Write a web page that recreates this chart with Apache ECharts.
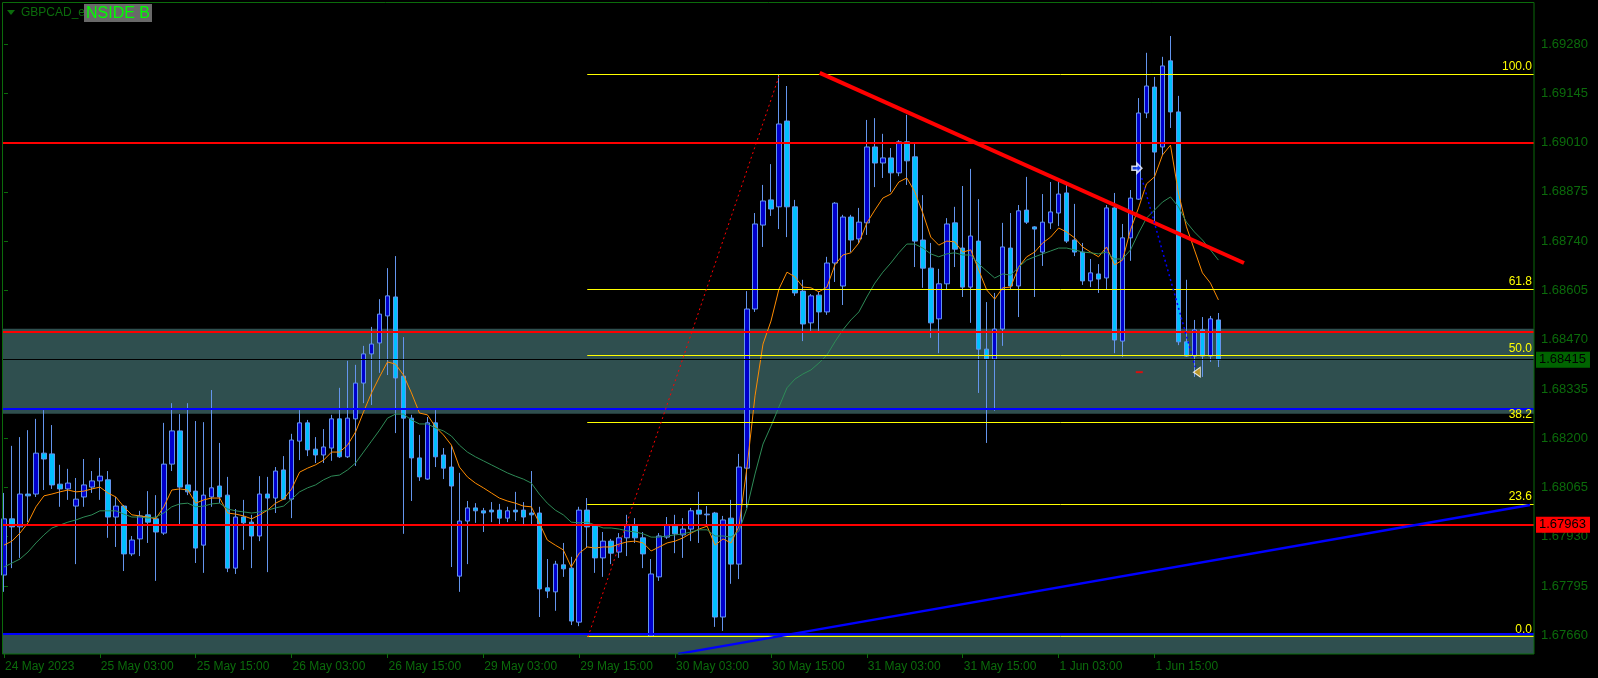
<!DOCTYPE html>
<html><head><meta charset="utf-8">
<script src="https://cdn.jsdelivr.net/npm/echarts@6/dist/echarts.min.js"></script>
<style>html,body{margin:0;padding:0;background:#000;}#c{width:1598px;height:678px;}</style>
</head><body><div id="c"></div>
<script>
// ---- candle data (H1, GBPCAD, 24 May 15:00 .. 1 Jun 23:00) ----
const opens=[1.67825,1.67979,1.67957,1.68047,1.68047,1.68159,1.68157,1.68074,1.68061,1.68014,
1.68039,1.68066,1.68083,1.68086,1.67984,1.68014,1.67883,1.67924,1.67990,1.67979,
1.67940,1.68129,1.68220,1.68072,1.68055,1.67907,1.68039,1.68069,1.68044,1.67844,
1.67984,1.67970,1.67932,1.68047,1.68036,1.68113,1.68033,1.68192,1.68242,1.68170,
1.68154,1.68173,1.68253,1.68149,1.68253,1.68351,1.68431,1.68461,1.68535,1.68587,
1.68370,1.68255,1.68146,1.68088,1.68242,1.68154,1.68121,1.67822,1.67973,1.68009,
1.68001,1.68003,1.68003,1.67981,1.68003,1.68003,1.67995,1.67995,1.67790,1.67779,
1.67853,1.67844,1.67696,1.68003,1.67962,1.67872,1.67918,1.67888,1.67927,1.67962,
1.67927,1.67658,1.67820,1.67929,1.67959,1.67935,1.67951,1.68003,1.67992,1.67995,
1.67710,1.67981,1.67855,1.68118,1.68554,1.68784,1.68853,1.68834,1.69069,1.68834,
1.68603,1.68516,1.68592,1.68546,1.68680,1.68617,1.68806,1.68746,1.68790,1.68998,
1.68954,1.68968,1.68927,1.69012,1.68971,1.68743,1.68666,1.68527,1.68623,1.68790,
1.68721,1.68614,1.68740,1.68444,1.68417,1.68499,1.68721,1.68617,1.68825,1.68779,
1.68710,1.68790,1.68817,1.68872,1.68743,1.68710,1.68631,1.68650,1.68639,1.68831,
1.68466,1.68749,1.68855,1.69091,1.69162,1.68998,1.69234,1.69094,1.68464,1.68425,
1.68497,1.68425,1.68524];
const highs=[1.68050,1.68179,1.68203,1.68222,1.68253,1.68277,1.68236,1.68127,1.68116,1.68091,
1.68143,1.68110,1.68146,1.68110,1.68039,1.68017,1.67932,1.68001,1.68055,1.68044,
1.68242,1.68296,1.68266,1.68296,1.68247,1.68244,1.68332,1.68187,1.68094,1.68006,
1.68031,1.67990,1.68096,1.68094,1.68121,1.68151,1.68212,1.68277,1.68250,1.68203,
1.68225,1.68264,1.68338,1.68412,1.68401,1.68453,1.68505,1.68581,1.68666,1.68699,
1.68477,1.68264,1.68209,1.68258,1.68277,1.68173,1.68179,1.68105,1.68028,1.68022,
1.68009,1.68025,1.68020,1.68012,1.68053,1.68025,1.68110,1.68012,1.67869,1.67864,
1.67913,1.67875,1.68012,1.68036,1.67962,1.67943,1.67924,1.67940,1.67990,1.67981,
1.67943,1.67869,1.67940,1.67984,1.67990,1.67981,1.68009,1.68053,1.68014,1.67998,
1.67987,1.68031,1.68157,1.68603,1.68817,1.68894,1.68951,1.69198,1.69165,1.68853,
1.68634,1.68595,1.68601,1.68697,1.68847,1.68812,1.68812,1.68831,1.69072,1.69077,
1.69034,1.68995,1.69017,1.69086,1.69009,1.68866,1.68735,1.68664,1.68803,1.68834,
1.68891,1.68938,1.68855,1.68573,1.68598,1.68790,1.68817,1.68839,1.68916,1.68781,
1.68869,1.68902,1.68908,1.68902,1.68842,1.68735,1.68691,1.68677,1.68839,1.68872,
1.68787,1.68880,1.69132,1.69256,1.69190,1.69245,1.69302,1.69138,1.68634,1.68524,
1.68532,1.68535,1.68543];
const lows=[1.67779,1.67844,1.67872,1.67970,1.68039,1.68058,1.68061,1.68012,1.68031,1.67855,
1.68012,1.68050,1.68031,1.67927,1.67902,1.67836,1.67877,1.67877,1.67913,1.67809,
1.67935,1.68110,1.67962,1.68044,1.67858,1.67831,1.68012,1.68022,1.67833,1.67828,
1.67894,1.67844,1.67918,1.67833,1.67995,1.68031,1.67981,1.68140,1.68151,1.68132,
1.68132,1.68138,1.68146,1.68146,1.68124,1.68296,1.68291,1.68379,1.68373,1.68214,
1.67938,1.68028,1.68083,1.68086,1.68121,1.68088,1.67847,1.67779,1.67855,1.67968,
1.67943,1.67970,1.67962,1.67970,1.67973,1.67962,1.67962,1.67710,1.67762,1.67727,
1.67820,1.67688,1.67685,1.67899,1.67831,1.67820,1.67855,1.67872,1.67877,1.67913,
1.67844,1.67655,1.67809,1.67924,1.67885,1.67872,1.67918,1.67913,1.67959,1.67683,
1.67672,1.67801,1.67814,1.68009,1.68546,1.68724,1.68809,1.68773,1.68751,1.68590,
1.68466,1.68494,1.68494,1.68538,1.68628,1.68565,1.68710,1.68735,1.68757,1.68888,
1.68913,1.68875,1.68918,1.68894,1.68669,1.68612,1.68475,1.68433,1.68606,1.68669,
1.68587,1.68516,1.68324,1.68187,1.68275,1.68453,1.68606,1.68532,1.68787,1.68587,
1.68672,1.68773,1.68781,1.68735,1.68699,1.68620,1.68614,1.68598,1.68606,1.68433,
1.68423,1.68686,1.68853,1.69077,1.68792,1.68976,1.69050,1.68455,1.68423,1.68368,
1.68368,1.68409,1.68395];
const closes=[1.67979,1.67957,1.68047,1.68042,1.68159,1.68143,1.68072,1.68061,1.68077,1.68033,
1.68072,1.68083,1.68096,1.67984,1.68014,1.67883,1.67921,1.67987,1.67970,1.67943,
1.68129,1.68220,1.68066,1.68053,1.67899,1.68044,1.68064,1.68039,1.67844,1.67984,
1.67968,1.67932,1.68047,1.68036,1.68110,1.68033,1.68195,1.68242,1.68168,1.68154,
1.68176,1.68253,1.68149,1.68255,1.68351,1.68431,1.68458,1.68540,1.68590,1.68365,
1.68255,1.68146,1.68094,1.68242,1.68149,1.68118,1.68069,1.67973,1.68009,1.68001,
1.67995,1.67998,1.67981,1.68001,1.67998,1.67984,1.67990,1.67787,1.67781,1.67855,
1.67842,1.67699,1.68003,1.67957,1.67872,1.67918,1.67885,1.67927,1.67962,1.67927,
1.67883,1.67828,1.67932,1.67962,1.67938,1.67951,1.68001,1.67992,1.67990,1.67710,
1.67976,1.67855,1.68121,1.68554,1.68787,1.68850,1.68828,1.69061,1.68834,1.68598,
1.68513,1.68590,1.68546,1.68680,1.68844,1.68806,1.68743,1.68792,1.68998,1.68954,
1.68968,1.68927,1.69012,1.68960,1.68740,1.68666,1.68516,1.68623,1.68787,1.68718,
1.68614,1.68754,1.68444,1.68417,1.68499,1.68724,1.68617,1.68823,1.68792,1.68773,
1.68792,1.68820,1.68869,1.68740,1.68710,1.68631,1.68653,1.68636,1.68831,1.68469,
1.68749,1.68858,1.69091,1.69165,1.68984,1.69220,1.69094,1.68464,1.68425,1.68497,
1.68425,1.68527,1.68415];
// moving averages
const maFast=[1.67907,1.67918,1.67940,1.67968,1.68012,1.68042,1.68047,1.68053,1.68058,1.68053,
1.68055,1.68061,1.68066,1.68050,1.68039,1.68012,1.67990,1.67987,1.67984,1.67979,
1.68012,1.68058,1.68061,1.68058,1.68022,1.68031,1.68036,1.68036,1.67995,1.67992,
1.67987,1.67979,1.67990,1.68003,1.68022,1.68033,1.68061,1.68107,1.68118,1.68127,
1.68140,1.68162,1.68162,1.68181,1.68217,1.68272,1.68324,1.68368,1.68409,1.68403,
1.68373,1.68324,1.68269,1.68264,1.68231,1.68209,1.68181,1.68121,1.68094,1.68077,
1.68064,1.68050,1.68036,1.68028,1.68022,1.68014,1.68012,1.67968,1.67921,1.67907,
1.67894,1.67847,1.67885,1.67902,1.67899,1.67902,1.67902,1.67910,1.67916,1.67918,
1.67913,1.67891,1.67902,1.67913,1.67918,1.67927,1.67940,1.67951,1.67959,1.67907,
1.67924,1.67913,1.67959,1.68121,1.68316,1.68458,1.68521,1.68609,1.68655,1.68642,
1.68614,1.68612,1.68601,1.68614,1.68675,1.68702,1.68708,1.68735,1.68790,1.68825,
1.68858,1.68869,1.68902,1.68913,1.68875,1.68817,1.68751,1.68729,1.68740,1.68738,
1.68710,1.68716,1.68661,1.68606,1.68581,1.68612,1.68614,1.68669,1.68697,1.68710,
1.68735,1.68751,1.68776,1.68765,1.68749,1.68724,1.68710,1.68697,1.68724,1.68675,
1.68688,1.68771,1.68831,1.68897,1.68916,1.68976,1.69003,1.68872,1.68779,1.68716,
1.68653,1.68625,1.68579];
const maSlow=[1.67847,1.67858,1.67869,1.67888,1.67913,1.67935,1.67954,1.67962,1.67970,1.67976,
1.67984,1.67990,1.68001,1.68001,1.68001,1.67992,1.67984,1.67984,1.67981,1.67984,
1.67995,1.68012,1.68020,1.68022,1.68012,1.68014,1.68020,1.68022,1.68006,1.68001,
1.67998,1.67995,1.67998,1.68003,1.68009,1.68014,1.68033,1.68053,1.68064,1.68072,
1.68086,1.68096,1.68099,1.68113,1.68132,1.68162,1.68192,1.68222,1.68255,1.68266,
1.68266,1.68250,1.68239,1.68239,1.68228,1.68220,1.68206,1.68181,1.68162,1.68149,
1.68138,1.68127,1.68116,1.68105,1.68096,1.68088,1.68077,1.68047,1.68022,1.68003,
1.67990,1.67970,1.67968,1.67970,1.67962,1.67954,1.67954,1.67951,1.67946,1.67943,
1.67938,1.67929,1.67929,1.67932,1.67935,1.67938,1.67943,1.67949,1.67949,1.67932,
1.67932,1.67929,1.67946,1.68009,1.68102,1.68184,1.68233,1.68286,1.68338,1.68362,
1.68376,1.68387,1.68406,1.68428,1.68464,1.68497,1.68524,1.68546,1.68587,1.68625,
1.68655,1.68680,1.68708,1.68732,1.68732,1.68721,1.68705,1.68697,1.68705,1.68708,
1.68702,1.68702,1.68677,1.68658,1.68639,1.68650,1.68647,1.68669,1.68688,1.68697,
1.68705,1.68713,1.68721,1.68721,1.68716,1.68710,1.68708,1.68705,1.68710,1.68691,
1.68691,1.68716,1.68762,1.68803,1.68825,1.68847,1.68861,1.68834,1.68792,1.68765,
1.68743,1.68716,1.68688];

// ---- axes ----
const yTicks=[1.67660,1.67795,1.67930,1.68065,1.68200,1.68335,1.68470,1.68605,1.68740,1.68875,1.69010,1.69145,1.69280];
const tickIndex=[0,12,24,36,48,60,72,84,96,108,120,132,144];
const tickLabels=['24 May 2023','25 May 03:00','25 May 15:00','26 May 03:00','26 May 15:00','29 May 03:00','29 May 15:00','30 May 03:00','30 May 15:00','31 May 03:00','31 May 15:00','1 Jun 03:00','1 Jun 15:00'];
const SLOTS=192; // bars + right shift

// ---- drawn objects (bar index, price) ----
const fibPrices=[1.69198,1.68609,1.68427,1.68245,1.68020,1.67656];
const fibLabels=['100.0','61.8','50.0','38.2','23.6','0.0'];
const fibStartBar=73.0;
const fibBase=[[73.1,1.67656],[97.1,1.69198]];
const redLevels=[1.69010,1.68491,1.67963];
const blueLevels=[1.68280,1.67665];
const zones=[[1.68500,1.68267],[1.67663,1.67600]];
const redTrend=[[102.1,1.69201],[155.2,1.68680]];
const blueTrend=[[84.4,1.67609],[191.0,1.68017]];
const tradeLine=[[142.4,1.68913],[149.1,1.68395]];
const arrowMark=[141.8,1.68940];
const triMark=[149.3,1.68381];
const dashMark=[142.1,1.68381];
const bidPrice=1.68415;
const taggedLevel=1.67963;

const GREEN='#0b6b0b';
const FONT='"Liberation Sans", Arial, sans-serif';

const categories=[];
(function(){
  const mon=['Jan','Feb','Mar','Apr','May','Jun','Jul','Aug','Sep','Oct','Nov','Dec'];
  let t=Date.UTC(2023,4,24,15);
  while(categories.length<SLOTS){
    const d=new Date(t);const wd=d.getUTCDay();
    if(wd!==0&&wd!==6){categories.push(d.getUTCDate()+' '+mon[d.getUTCMonth()]+' '+String(d.getUTCHours()).padStart(2,'0')+':00');}
    t+=3600000;
  }
})();
const labelMap={};tickIndex.forEach((ix,k)=>labelMap[ix]=tickLabels[k]);
const isTick=(idx)=>labelMap[idx]!==undefined;

const candleData=opens.map((o,i)=>[o,closes[i],lows[i],highs[i]]);
const X0=-0.25, X1=SLOTS-0.5;

const lines=[];
redLevels.forEach(p=>{
  const item={coord:[X0,p],lineStyle:{color:'#ff0000',width:2,type:'solid'},label:{show:false}};
  if(p===taggedLevel){item.label={show:true,position:'end',formatter:p.toFixed(5),color:'#000',backgroundColor:'#ff0000',padding:[2,4,1,3],fontSize:13,fontFamily:FONT,distance:2};}
  lines.push([item,{coord:[X1,p]}]);
});
blueLevels.forEach(p=>lines.push([{coord:[X0,p],lineStyle:{color:'#0000ff',width:2,type:'solid'},label:{show:false}},{coord:[X1,p]}]));
lines.push([{coord:[X0,bidPrice],lineStyle:{color:'#000000',width:1,type:'solid'},label:{show:true,position:'end',formatter:bidPrice.toFixed(5),color:'#000',backgroundColor:'#006400',padding:[2,4,1,3],fontSize:13,fontFamily:FONT,distance:2}},{coord:[X1,bidPrice]}]);
fibPrices.forEach((p,k)=>lines.push([{coord:[fibStartBar,p],lineStyle:{color:'#ffff00',width:1,type:'solid'},label:{show:true,position:'insideEndTop',formatter:fibLabels[k],color:'#ffff00',fontSize:12,fontFamily:FONT,distance:[2,1]}},{coord:[X1,p]}]));
lines.push([{coord:fibBase[0],lineStyle:{color:'#ff0000',width:1,type:[2,3]},label:{show:false}},{coord:fibBase[1]}]);
lines.push([{coord:redTrend[0],lineStyle:{color:'#ff0000',width:4,type:'solid'},label:{show:false}},{coord:redTrend[1]}]);
lines.push([{coord:blueTrend[0],lineStyle:{color:'#0000ff',width:2.5,type:'solid'},label:{show:false}},{coord:blueTrend[1]}]);
lines.push([{coord:tradeLine[0],lineStyle:{color:'#0000ff',width:1.5,type:[2,3]},label:{show:false}},{coord:tradeLine[1]}]);

const chart=echarts.init(document.getElementById('c'),null,{renderer:'canvas'});
chart.setOption({
  animation:false,
  backgroundColor:'#000000',
  textStyle:{fontFamily:FONT},
  grid:{left:0,right:64,top:2,bottom:24,containLabel:false},
  xAxis:[
    {type:'category',data:categories,boundaryGap:true,
     axisLine:{show:false},
     axisTick:{show:true,alignWithLabel:true,interval:(i)=>isTick(i),length:4,lineStyle:{color:GREEN}},
     axisLabel:{show:true,interval:(i)=>isTick(i),formatter:(v,i)=>labelMap[i]||'',align:'left',margin:7,color:GREEN,fontSize:12,fontFamily:FONT,padding:[0,0,0,1]},
     splitLine:{show:false}},
    {type:'value',min:-0.5,max:SLOTS-0.5,show:false}
  ],
  yAxis:{type:'value',position:'right',min:1.676087,max:1.693952,scale:true,
    splitLine:{show:false},axisLine:{show:false},
    axisTick:{show:true,length:4,customValues:yTicks,lineStyle:{color:GREEN}},
    axisLabel:{show:true,customValues:yTicks,formatter:(v)=>v.toFixed(5),color:GREEN,fontSize:13,fontFamily:FONT,margin:7}},
  series:[
    {type:'line',xAxisIndex:1,data:[],z:1,silent:true,
     markArea:{silent:true,itemStyle:{color:'#2f4f4f',opacity:1},
       data:zones.map(z=>[{coord:[X0,z[0]]},{coord:[X1,z[1]]}])}},
    {type:'candlestick',xAxisIndex:0,data:candleData,z:2,barWidth:5,silent:true,
     itemStyle:{color:'#0000cd',color0:'#00bfff',borderColor:'#6495ed',borderColor0:'#6495ed',borderColorDoji:'#6495ed',borderWidth:1}},
    {type:'line',xAxisIndex:0,data:maFast,z:3,symbol:'none',silent:true,lineStyle:{color:'#ff8c00',width:1}},
    {type:'line',xAxisIndex:0,data:maSlow,z:3,symbol:'none',silent:true,lineStyle:{color:'#2e8b57',width:1}},
    {type:'line',xAxisIndex:1,data:[],z:4,silent:true,
     markLine:{silent:true,symbol:['none','none'],precision:5,data:lines}},
    {type:'scatter',xAxisIndex:1,z:5,silent:true,
     data:[
       {value:arrowMark,symbol:'path://M0,3 L5,3 L5,0 L10,5 L5,10 L5,7 L0,7 Z',symbolSize:[10,10],itemStyle:{color:'#2050ff',borderColor:'#ffffff',borderWidth:1.5}},
       {value:triMark,symbol:'path://M10,0 L10,10 L0,5 Z',symbolSize:[7,10],itemStyle:{color:'#daa520',borderColor:'#ffffff',borderWidth:1}},
       {value:dashMark,symbol:'rect',symbolSize:[7,2],itemStyle:{color:'#ff0000'}}
     ]}
  ],
  graphic:[
    {type:'rect',silent:true,z:100,shape:{x:2.5,y:2.5,width:1531.5,height:651.5},style:{fill:null,stroke:GREEN,lineWidth:1}},
    {type:'polygon',silent:true,z:100,shape:{points:[[7,10],[15,10],[11,15]]},style:{fill:GREEN}},
    {type:'text',silent:true,z:100,x:21,y:13,style:{text:'GBPCAD_ecn',fill:GREEN,font:'12px '+FONT,textVerticalAlign:'middle'}},
    {type:'rect',silent:true,z:101,shape:{x:84,y:4,width:68,height:18},style:{fill:'#696969'}},
    {type:'text',silent:true,z:102,x:86,y:13.5,style:{text:'NSIDE B',fill:'#00ff00',font:'16px '+FONT,textVerticalAlign:'middle'}}
  ]
});
</script></body></html>
